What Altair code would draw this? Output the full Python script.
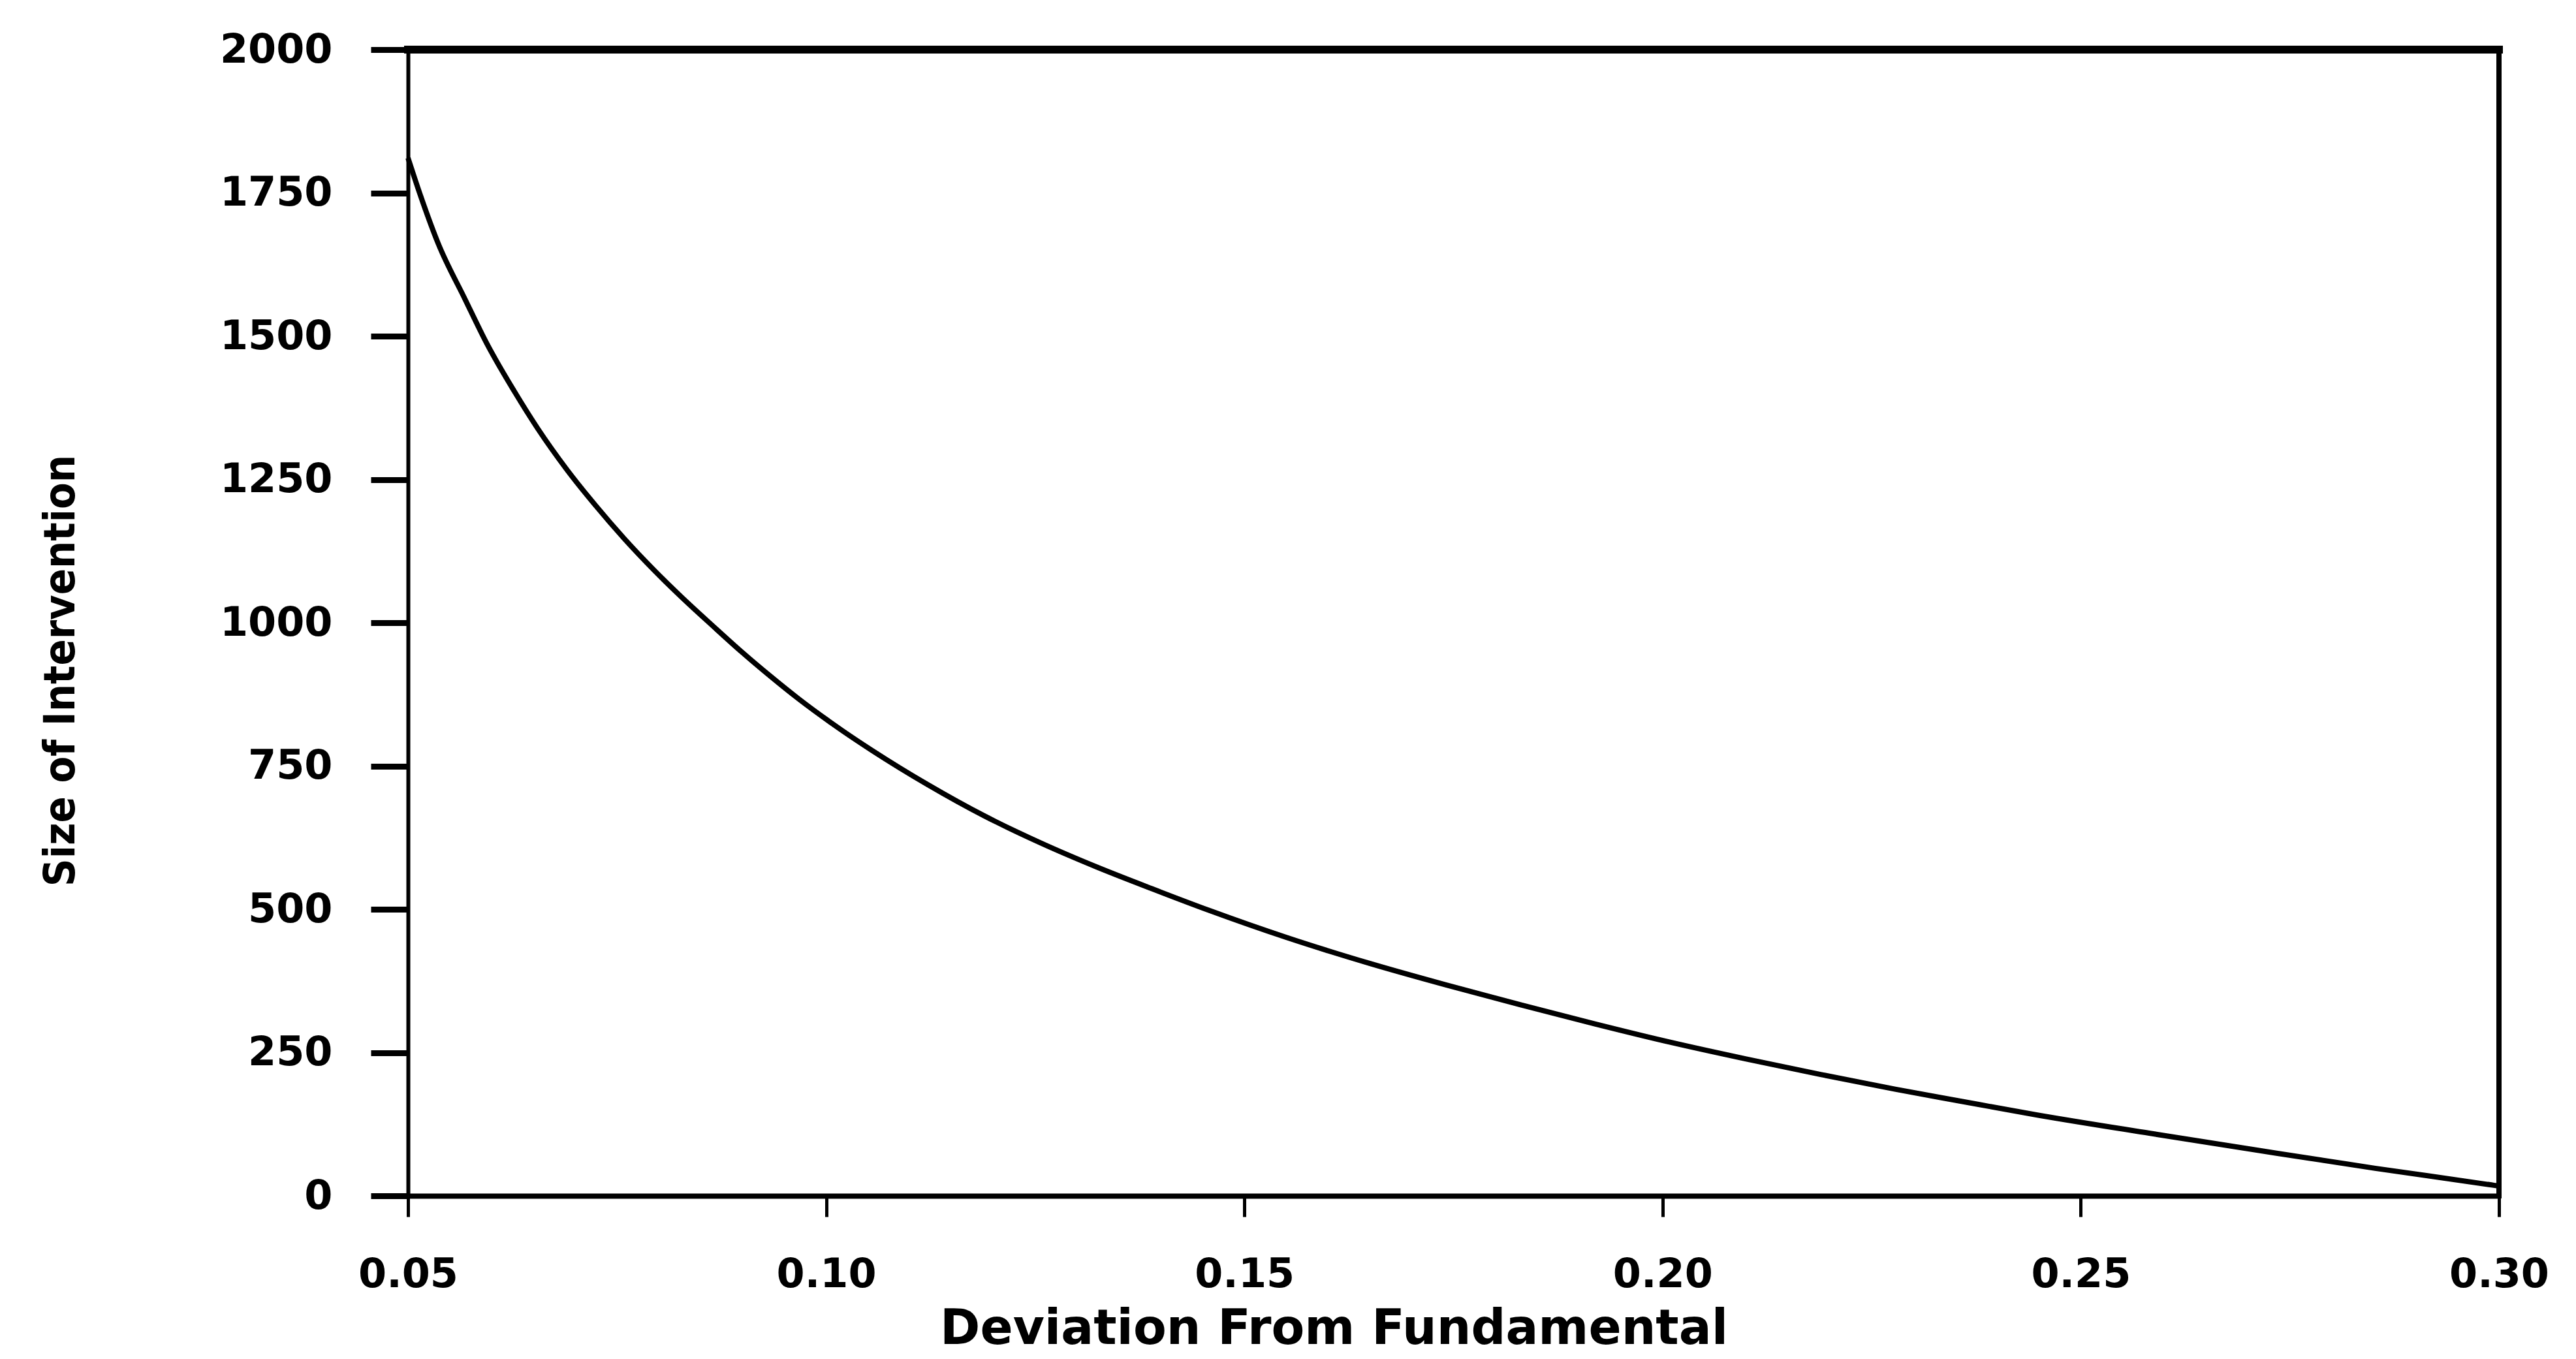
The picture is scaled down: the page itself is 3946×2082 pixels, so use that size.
import altair as alt
import pandas as pd

# Values
deviation = [0.0500, 0.0515, 0.0536, 0.0568, 0.0595, 0.0627, 0.0655, 0.0690,
             0.0724, 0.0759, 0.0794, 0.0829, 0.0864, 0.0899, 0.0933, 0.0968,
             0.1020, 0.1055, 0.1122, 0.1189, 0.1256, 0.1323, 0.1391, 0.1458,
             0.1550, 0.1651, 0.1741, 0.1831, 0.1919, 0.2009, 0.2099, 0.2188,
             0.2278, 0.2353, 0.2448, 0.2583, 0.2718, 0.2852, 0.2991, 0.3000]
intervention = [1811, 1745, 1662, 1565, 1485, 1404, 1339, 1267,
                1205, 1146, 1092, 1042, 995, 949, 907, 866,
                811, 777, 717, 663, 616, 574, 535, 498,
                451, 405, 368, 333, 300, 268, 239, 212,
                186, 166, 141, 109, 78, 48, 19, 17]

x_ticks = [0.05, 0.10, 0.15, 0.20, 0.25, 0.30]
y_ticks = [0, 250, 500, 750, 1000, 1250, 1500, 1750, 2000]

df = pd.DataFrame({"dev": deviation, "size": intervention})

LABEL_FONT = "DejaVu Sans"
TITLE_Y_FONT = "DejaVu Sans Condensed, DejaVu Sans, sans-serif"

x_enc = alt.X(
    "dev:Q",
    scale=alt.Scale(domain=[0.05, 0.30], nice=False, zero=False),
    axis=alt.Axis(
        values=x_ticks, format=".2f", title="Deviation From Fundamental",
        grid=False, domainColor="black", domainWidth=8,
        tickColor="black", tickWidth=5, tickSize=32,
        labelFont=LABEL_FONT, labelFontSize=62, labelFontWeight="bold",
        labelColor="black", labelPadding=58, labelFlush=False, labelLimit=0,
        titleFont=LABEL_FONT, titleFontSize=74, titleFontWeight="bold",
        titleColor="black", titleX=1418, titleY=226,
        titleBaseline="alphabetic", titleAlign="center", titleAnchor="start",
        titleLimit=0,
    ),
)
y_enc = alt.Y(
    "size:Q",
    scale=alt.Scale(domain=[0, 2000], nice=False),
    axis=alt.Axis(
        values=y_ticks, format="d", title="Size of Intervention",
        grid=False, domainColor="black", domainWidth=6,
        tickColor="black", tickWidth=9, tickSize=57,
        labelFont=LABEL_FONT, labelFontSize=62, labelFontWeight="bold",
        labelColor="black", labelPadding=59, labelFlush=False, labelLimit=0,
        titleFont=TITLE_Y_FONT, titleFontSize=66, titleFontWeight="bold",
        titleColor="black", titleAngle=270, titleX=-512, titleY=951,
        titleBaseline="alphabetic", titleAlign="center", titleAnchor="start",
        titleLimit=0,
    ),
)

curve = alt.Chart(df).mark_line(
    color="black", strokeWidth=8, interpolate="monotone"
).encode(x=x_enc, y=y_enc)

frame_df = pd.DataFrame({"x0": [0.05], "x1": [0.30], "y0": [0], "y1": [2000]})
top_rule = alt.Chart(frame_df).mark_rule(
    color="black", strokeWidth=12, strokeCap="square"
).encode(x=alt.X("x0:Q"), x2="x1:Q", y=alt.Y("y1:Q"))
right_rule = alt.Chart(frame_df).mark_rule(
    color="black", strokeWidth=8, strokeCap="square"
).encode(x=alt.X("x1:Q"), y=alt.Y("y0:Q"), y2="y1:Q")

chart = alt.layer(curve, top_rule, right_rule).properties(
    width=3203,
    height=1756,
    autosize=alt.AutoSizeParams(type="none"),
    padding={"left": 617, "top": 68, "right": 110, "bottom": 242},
    background="white",
).configure_view(stroke=None)

chart.save("out.html", embed_options={"renderer": "svg", "actions": False})
